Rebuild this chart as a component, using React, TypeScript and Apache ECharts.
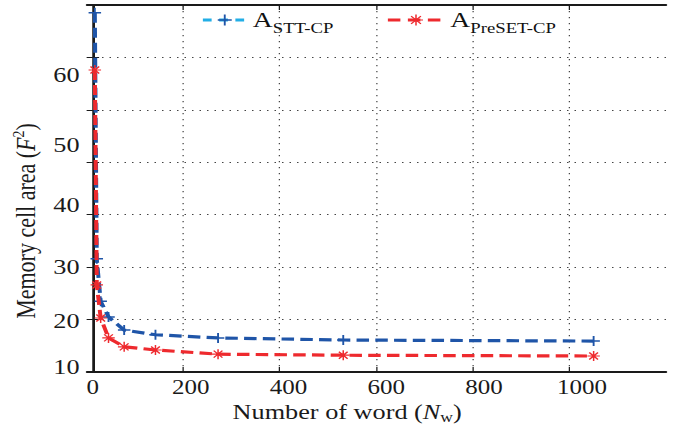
import React, { useEffect, useRef } from "react";
import * as echarts from "echarts";

// ---- data ----
const wordCounts = [4, 8, 16, 32, 64, 128, 256, 512, 1024];
const areaSTT = [78.5, 31.6, 23.5, 20.5, 18.0, 17.1, 16.5, 16.1, 15.9];
const areaPreSET = [67.6, 26.6, 20.3, 16.5, 14.8, 14.2, 13.4, 13.2, 13.05];

const xTickLabels = ["0", "200", "400", "600", "800", "1000"];
const xLabelValues = [0, 200, 400, 600, 800, 1000];
const xGridValues = [184, 382, 581, 777, 975];

const yTickLabels = ["10", "20", "30", "40", "50", "60"];
const yLabelValues = [10.95, 19.8, 30, 41.8, 53.3, 66.6];
const yGridValues = [20, 30, 40, 50, 60, 70];

const seriesNames = ["A_STT-CP", "A_PreSET-CP"];
const legendSubs = ["STT-CP", "PreSET-CP"];

const SCALE_X = 1.25;
const FONT = "Liberation Serif";
const BLUE = "#1f55a8";
const RED = "#ee2a2e";
const CYAN = "#22aee6";
const INK = "#1a1a1a";

const plusPath = "path://M0,-5L0,5M-5,0L5,0";
const starPath = "path://M0,-5L0,5M-5,0L5,0M-3.5,-3.5L3.5,3.5M-3.5,3.5L3.5,-3.5";

function pickLabel(values: number[], labels: string[], v: number) {
  for (let i = 0; i < values.length; i++) {
    if (Math.abs(values[i] - v) < 0.01) return labels[i];
  }
  return "";
}

export default function App() {
  const ref = useRef<HTMLDivElement>(null);
  useEffect(() => {
    if (!ref.current) return;
    const chart = echarts.init(ref.current, undefined, { renderer: "svg" });
    const axisLine = { show: true, lineStyle: { color: INK, width: 2 } };
    const dotted = { color: "#444", width: 1, type: [1.2, 4.8] as any };
    const xAxisBase = {
      type: "value" as const,
      min: -12,
      max: 1172,
      axisLine,
      axisTick: { show: true, inside: true, length: 5, customValues: xGridValues, lineStyle: { color: INK, width: 1 } },
    };
    const yAxisBase = {
      type: "value" as const,
      min: 10,
      max: 80,
      axisLine,
      axisTick: { show: true, inside: true, length: 5, customValues: yGridValues, lineStyle: { color: INK, width: 1 } },
    };
    const data1 = wordCounts.map((x, i) => [x, areaSTT[i]]);
    const data2 = wordCounts.map((x, i) => [x, areaPreSET[i]]);
    const dash = [10, 5];
    const legendText = {
      color: "#111",
      fontFamily: FONT,
      rich: {
        a: { fontSize: 22, fontFamily: FONT, color: "#111", lineHeight: 24, verticalAlign: "top" },
        s: { fontSize: 15, fontFamily: FONT, color: "#111", lineHeight: 15, padding: [13, 0, 0, 0], verticalAlign: "top" },
      },
    };
    const legendFormatter = (name: string) => {
      const i = seriesNames.indexOf(name);
      return "{a|A}{s|" + legendSubs[i] + "}";
    };
    chart.setOption({
      animation: false,
      backgroundColor: "#fff",
      textStyle: { fontFamily: FONT },
      grid: { left: 69.6, right: 16.2, top: 5, bottom: 57, outerBoundsMode: "none" } as any,
      legend: [
        {
          left: 160.8,
          top: 8,
          padding: 0,
          itemWidth: 35,
          itemHeight: 14,
          itemGap: 2,
          data: [
            { name: seriesNames[0], lineStyle: { color: CYAN, width: 3, type: [7, 6] }, itemStyle: { color: BLUE, borderColor: BLUE, borderWidth: 1.5 } },
          ],
          formatter: legendFormatter,
          textStyle: legendText,
        },
        {
          left: 308.8,
          top: 8,
          padding: 0,
          itemWidth: 45,
          itemHeight: 14,
          itemGap: 2,
          data: [
            { name: seriesNames[1], lineStyle: { color: RED, width: 3, type: [10, 6] }, itemStyle: { color: RED, borderColor: RED, borderWidth: 1.2 } },
          ],
          formatter: legendFormatter,
          textStyle: legendText,
        },
      ],
      xAxis: [
        {
          ...xAxisBase,
          position: "bottom",
          splitLine: { show: true, lineStyle: dotted },
          axisLabel: {
            show: true,
            customValues: xLabelValues,
            margin: 5,
            fontSize: 20,
            color: INK,
            fontFamily: FONT,
            formatter: (v: number) => pickLabel(xLabelValues, xTickLabels, v),
          },
          name: "Number of word ({i|N}{sub|w})",
          nameLocation: "middle",
          nameGap: 28,
          nameTextStyle: {
            fontSize: 21,
            fontFamily: FONT,
            color: INK,
            padding: [0, 47, 0, 0],
            rich: {
              i: { fontSize: 21, fontFamily: FONT, fontStyle: "italic", color: INK },
              sub: { fontSize: 14, fontFamily: FONT, color: INK, padding: [10, 0, 0, 0] },
            },
          },
        },
        {
          ...xAxisBase,
          position: "top",
          splitLine: { show: false },
          axisLabel: { show: false },
        },
      ],
      yAxis: [
        {
          ...yAxisBase,
          position: "left",
          splitLine: { show: true, lineStyle: dotted },
          axisLabel: {
            show: true,
            customValues: yLabelValues,
            margin: 6,
            fontSize: 21,
            color: INK,
            fontFamily: FONT,
            formatter: (v: number) => pickLabel(yLabelValues, yTickLabels, v),
          },
          name: "Memory cell area ({i|F}{sup|2})",
          nameLocation: "middle",
          nameGap: 31,
          nameTextStyle: {
            fontSize: 22,
            fontFamily: FONT,
            color: INK,
            padding: [0, 65, 0, 0],
            rich: {
              i: { fontSize: 22, fontFamily: FONT, fontStyle: "italic", color: INK },
              sup: { fontSize: 14, fontFamily: FONT, color: INK, padding: [0, 0, 12, 0] },
            },
          },
        },
        {
          ...yAxisBase,
          position: "right",
          splitLine: { show: false },
          axisLabel: { show: false },
        },
      ],
      series: [
        {
          name: seriesNames[0],
          type: "line",
          xAxisIndex: 0,
          yAxisIndex: 0,
          data: data1,
          symbol: plusPath,
          symbolSize: 10,
          itemStyle: { color: BLUE, borderColor: BLUE, borderWidth: 1.5 },
          lineStyle: { color: BLUE, width: 3.2, type: dash },
          z: 3,
        },
        {
          name: seriesNames[1],
          type: "line",
          xAxisIndex: 0,
          yAxisIndex: 0,
          data: data2,
          symbol: starPath,
          symbolSize: 10,
          itemStyle: { color: RED, borderColor: RED, borderWidth: 1.2 },
          lineStyle: { color: RED, width: 3.2, type: dash },
          z: 4,
        },
      ],
    });
    return () => chart.dispose();
  }, []);
  const innerW = 686 / SCALE_X;
  return (
    <div style={{ position: "fixed", left: 0, top: 0, width: 686, height: 429, overflow: "hidden", background: "#fff" }}>
      <div
        ref={ref}
        style={{ width: innerW, height: 429, transform: `scaleX(${SCALE_X})`, transformOrigin: "0 0" }}
      />
    </div>
  );
}
